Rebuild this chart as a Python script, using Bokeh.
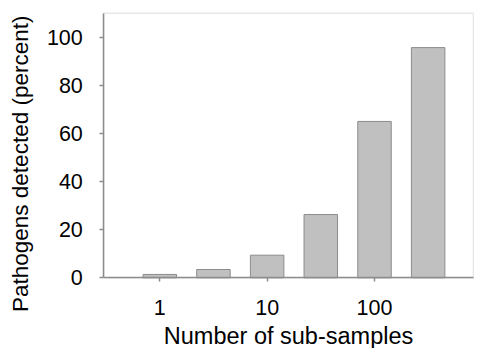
import math
from bokeh.plotting import figure
from bokeh.models import FixedTicker, ColumnDataSource, Range1d, Label, BoxAnnotation
from bokeh.embed import file_html
from bokeh.resources import INLINE

# data
subsamples = [1, 3.16, 10, 31.6, 100, 316]
detected = [1.4, 3.45, 9.4, 26.3, 65.0, 95.7]
x_ticks = [1, 10, 100]
y_ticks = [0, 20, 40, 60, 80, 100]
x_title = "Number of sub-samples"
y_title = "Pathogens detected (percent)"

# layout (log10 decades / data units)
x_lo, x_hi = 10 ** -0.5217, 10 ** 2.922   # plot box left / right
y_lo, y_hi = 0, 110                         # plot box bottom / top
half = 10 ** 0.156                          # half bar width (multiplicative)

src = ColumnDataSource(dict(
    left=[v / half for v in subsamples],
    right=[v * half for v in subsamples],
    top=detected,
    bottom=[0] * len(detected),
))

p = figure(width=474, height=348, x_axis_type="log",
           x_range=Range1d(10 ** -1.4839, 10 ** 2.9315), y_range=Range1d(-29.39, 115.28),
           output_backend="svg", toolbar_location=None,
           min_border_left=0, min_border_right=0, min_border_top=0, min_border_bottom=0)

p.xgrid.visible = False
p.ygrid.visible = False
p.outline_line_color = None
p.background_fill_color = "white"
p.border_fill_color = "white"

box = BoxAnnotation(left=x_lo, right=x_hi, bottom=y_lo, top=y_hi,
                    fill_color=None, line_color="#b0b0b0", line_width=1.5, level="underlay")
p.add_layout(box)

p.quad(left="left", right="right", top="top", bottom="bottom", source=src,
       fill_color="#c0c0c0", line_color="#8c8c8c", line_width=1)

p.xaxis.ticker = FixedTicker(ticks=x_ticks, minor_ticks=[])
p.yaxis.ticker = FixedTicker(ticks=y_ticks, minor_ticks=[])
p.xaxis.major_label_overrides = {t: str(t) for t in x_ticks}
p.xaxis.fixed_location = y_lo
p.yaxis.fixed_location = x_lo
p.xaxis.bounds = (x_lo, x_hi)
p.yaxis.bounds = (y_lo, y_hi)

for ax in (p.xaxis[0], p.yaxis[0]):
    ax.axis_line_color = "#8c8c8c"
    ax.axis_line_width = 1.5
    ax.major_tick_line_color = "#8c8c8c"
    ax.major_tick_line_width = 1.5
    ax.major_tick_in = 0
    ax.major_tick_out = 4
    ax.minor_tick_line_color = None
    ax.major_label_text_font = "Liberation Sans"
    ax.major_label_text_font_size = "21.5px"
    ax.major_label_text_color = "black"

p.xaxis.major_label_standoff = 18
p.yaxis.major_label_standoff = 17

p.add_layout(Label(x=10 ** 1.199, y=-24.0, text=x_title, text_align="center",
                   text_baseline="alphabetic", text_font="Liberation Sans",
                   text_font_size="23.5px", text_color="black"))
p.add_layout(Label(x=10 ** -1.295, y=47.4, text=y_title, angle=math.pi / 2,
                   text_align="center", text_baseline="alphabetic",
                   text_font="Liberation Sans", text_font_size="22.5px",
                   text_color="black"))

open("out.html", "w").write(file_html(p, INLINE))
